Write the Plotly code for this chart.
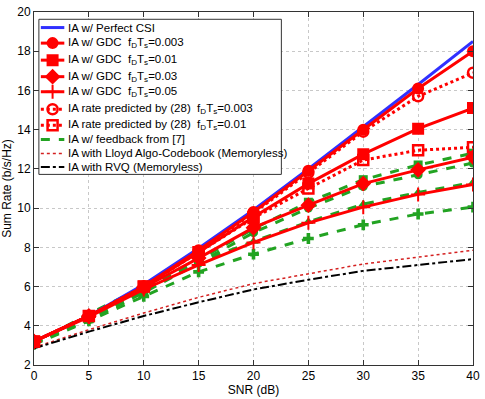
import plotly.graph_objects as go

snr = [0, 5, 10, 15, 20, 25, 30, 35, 40]

perfect_csi = [3.2, 4.5, 6.1, 7.95, 9.9, 12.0, 14.15, 16.3, 18.5]
gdc_003 = [3.2, 4.5, 6.0, 7.85, 9.8, 11.9, 14.0, 16.1, 18.0]
gdc_01 = [3.2, 4.5, 6.0, 7.75, 9.55, 11.25, 12.75, 14.05, 15.1]
gdc_03 = [3.2, 4.5, 5.95, 7.45, 9.0, 10.15, 11.25, 11.95, 12.6]
gdc_05 = [3.2, 4.45, 5.85, 7.1, 8.25, 9.25, 10.05, 10.7, 11.2]
pred_003 = [3.2, 4.5, 6.0, 7.8, 9.75, 11.8, 13.9, 15.7, 16.9]
pred_01 = [3.2, 4.5, 6.0, 7.75, 9.5, 11.0, 12.45, 12.95, 13.1]
fb_a = [3.1, 4.35, 5.8, 7.35, 8.95, 10.3, 11.45, 12.2, 12.8]
fb_b = [3.1, 4.3, 5.7, 7.2, 8.75, 10.0, 11.1, 11.7, 12.3]
fb_c = [3.1, 4.6, 6.0, 7.25, 8.3, 9.3, 10.2, 10.8, 11.3]
fb_d = [3.05, 4.25, 5.5, 6.75, 7.65, 8.45, 9.15, 9.7, 10.05]
lloyd = [2.9, 3.8, 4.65, 5.45, 6.15, 6.65, 7.15, 7.5, 7.85]
rvq = [2.85, 3.7, 4.5, 5.2, 5.85, 6.35, 6.8, 7.1, 7.4]

fdts = "f<sub>D</sub>T<sub>s</sub>"
legend_labels = [
    "IA w/ Perfect CSI",
    "IA w/ GDC  " + fdts + "=0.003",
    "IA w/ GDC  " + fdts + "=0.01",
    "IA w/ GDC  " + fdts + "=0.03",
    "IA w/ GDC  " + fdts + "=0.05",
    "IA rate predicted by (28)  " + fdts + "=0.003",
    "IA rate predicted by (28)  " + fdts + "=0.01",
    "IA w/ feedback from [7]",
    "IA with Lloyd Algo-Codebook (Memoryless)",
    "IA with RVQ (Memoryless)",
]

RED = "#ff0000"
GREEN = "#22a322"
BLUE = "#3030ff"
LLOYD = "#d42020"

# line / marker style for each series, same order as legend_labels
styles = [
    dict(line=dict(color=BLUE, width=3), symbol=None),
    dict(line=dict(color=RED, width=3), symbol="circle"),
    dict(line=dict(color=RED, width=3), symbol="square"),
    dict(line=dict(color=RED, width=3), symbol="diamond"),
    dict(line=dict(color=RED, width=3), symbol="cross-thin"),
    dict(line=dict(color=RED, width=3, dash="dot"), symbol="circle-open"),
    dict(line=dict(color=RED, width=3, dash="dot"), symbol="square-open"),
    dict(line=dict(color=GREEN, width=3, dash="dash"), symbol=None),
    dict(line=dict(color=LLOYD, width=1.5, dash="dot"), symbol=None),
    dict(line=dict(color="black", width=2, dash="dashdot"), symbol=None),
]


def mk(st, size=10):
    return dict(symbol=st["symbol"], size=size, color=st["line"]["color"],
                line=dict(color=st["line"]["color"], width=2.5 if "open" in st["symbol"] else 2))


fig = go.Figure()

# feedback from [7] curves drawn first so the red ones sit on top
for ys, sym in [(fb_a, "square"), (fb_b, "circle"), (fb_c, "triangle-up"), (fb_d, "cross")]:
    fig.add_trace(go.Scatter(x=snr, y=ys, mode="lines+markers", showlegend=False,
                             line=dict(color=GREEN, width=3, dash="dash"),
                             marker=dict(symbol=sym, size=9, color=GREEN)))

for ys, st in [(lloyd, styles[8]), (rvq, styles[9]), (perfect_csi, styles[0])]:
    fig.add_trace(go.Scatter(x=snr, y=ys, mode="lines", showlegend=False, line=st["line"]))

for ys, st in zip([gdc_003, gdc_01, gdc_03, gdc_05, pred_003, pred_01], styles[1:7]):
    fig.add_trace(go.Scatter(x=snr, y=ys, mode="lines+markers", showlegend=False,
                             line=st["line"], marker=mk(st)))

# ---- legend box drawn by hand (MATLAB-style compact rows) ----
L, R, T, B = 31, 480, 6, 369          # plot area in pixels
W, H = 485, 399


def px_x(p):
    return (p - L) / (R - L) * 40


def px_y(p):
    return 2 + (B - p) / (B - T) * 18


row_px = [22, 38, 55.5, 72.5, 88, 106, 122.5, 137, 151.5, 165.5]

fig.add_shape(type="rect", xref="x", yref="y", layer="between",
              x0=px_x(36), x1=px_x(284), y0=px_y(173), y1=px_y(13.5),
              fillcolor="white", line=dict(color="#333", width=1))

for lab, st, yp in zip(legend_labels, styles, row_px):
    yy = px_y(yp)
    fig.add_trace(go.Scatter(x=[px_x(38), px_x(62)], y=[yy, yy], mode="lines",
                             showlegend=False, hoverinfo="skip", line=st["line"]))
    if st["symbol"]:
        fig.add_trace(go.Scatter(x=[px_x(50)], y=[yy], mode="markers", showlegend=False,
                                 hoverinfo="skip", marker=mk(st)))
    fig.add_annotation(x=px_x(64), y=yy, xref="x", yref="y", text=lab, showarrow=False,
                       xanchor="left", yanchor="middle", font=dict(size=11.5, color="black"))

axis_common = dict(showline=True, linecolor="#333", linewidth=1, mirror="ticks",
                   ticks="inside", ticklen=5, tickcolor="#333",
                   showgrid=True, gridcolor="#c8c8c8", griddash="dot", gridwidth=1,
                   zeroline=False, tickfont=dict(size=12, color="black"),
                   ticklabeloverflow="allow")

fig.update_layout(
    width=W, height=H,
    margin=dict(l=L, r=W - R, t=T, b=H - B),
    paper_bgcolor="white", plot_bgcolor="white",
    font=dict(family="Liberation Sans, Arial, sans-serif", color="black"),
    showlegend=False,
    xaxis=dict(range=[0, 40], tickvals=snr, title=dict(text="SNR (dB)", font=dict(size=12), standoff=2),
               **axis_common),
    yaxis=dict(range=[2, 20], dtick=2, title=dict(text="Sum Rate (b/s/Hz)", font=dict(size=12), standoff=4),
               **axis_common),
)

fig.write_html("out.html", config={"displayModeBar": False},
               post_script="document.body.style.margin='0';")
